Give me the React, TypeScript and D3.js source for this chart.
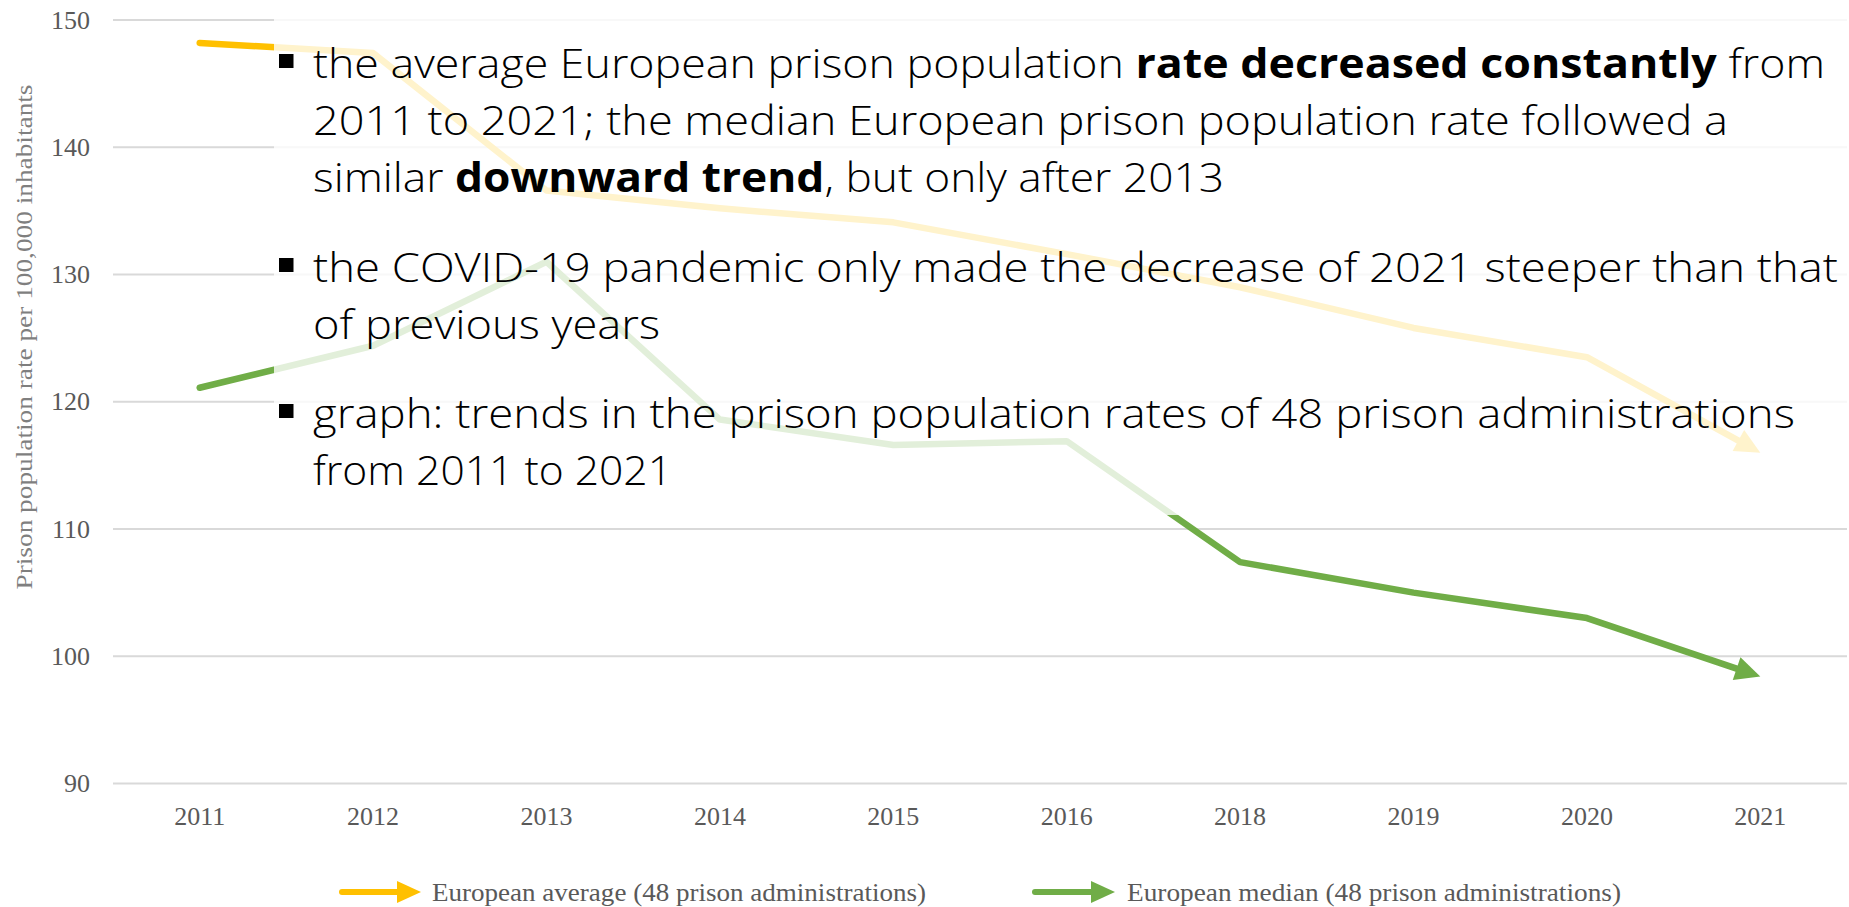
import React from "react";
import * as d3 from "d3";

const categories = ["2011", "2012", "2013", "2014", "2015", "2016", "2018", "2019", "2020", "2021"];
const averageValues = [148.2, 147.4, 136.6, 135.2, 134.1, 131.6, 129.0, 125.8, 123.5, 116.0];
const medianValues = [121.1, 124.4, 131.0, 118.6, 116.6, 116.9, 107.4, 105.0, 103.0, 98.4];
const yTicks = [90, 100, 110, 120, 130, 140, 150];
const seriesNames = [
  "European average (48 prison administrations)",
  "European median (48 prison administrations)",
];
const seriesColors = ["#FFC000", "#70AD47"];
const yAxisTitle = "Prison population rate per 100,000 inhabitants";

type Seg = [string, boolean];
const bulletParagraphs: Seg[][][] = [
  [
    [["the average European prison population ", false], ["rate decreased constantly", true], [" from", false]],
    [["2011 to 2021; the median European prison population rate followed a", false]],
    [["similar ", false], ["downward trend", true], [", but only after 2013", false]],
  ],
  [
    [["the COVID-19 pandemic only made the decrease of 2021 steeper than that", false]],
    [["of previous years", false]],
  ],
  [
    [["graph: trends in the prison population rates of 48 prison administrations", false]],
    [["from 2011 to 2021", false]],
  ],
];
// measured line widths (px) of the reference text block
const lineWidths = [[1512, 1415, 911], [1525, 347], [1482, 359]];
const paragraphBaselines = [78, 282, 428];

const W = 1849;
const H = 907;
const plotLeft = 113;
const plotRight = 1847;

function arrowParts(pts: [number, number][], headLen: number, headWidth: number) {
  const n = pts.length;
  const [tx, ty] = pts[n - 1];
  const [px, py] = pts[n - 2];
  const dx = tx - px;
  const dy = ty - py;
  const len = Math.hypot(dx, dy);
  const ux = dx / len;
  const uy = dy / len;
  const bx = tx - ux * headLen;
  const by = ty - uy * headLen;
  const nx = -uy;
  const ny = ux;
  const linePts = pts.slice(0, n - 1).concat([[bx, by]]);
  const head = [
    [tx, ty],
    [bx + (nx * headWidth) / 2, by + (ny * headWidth) / 2],
    [bx - (nx * headWidth) / 2, by - (ny * headWidth) / 2],
  ];
  return { linePts, head };
}

export default function App() {
  const x = d3.scaleBand<string>().domain(categories).range([plotLeft, plotRight]);
  const y = d3.scaleLinear().domain([90, 150]).range([783.5, 20]);
  const cx = (c: string) => (x(c) as number) + x.bandwidth() / 2;
  const line = d3.line<[number, number]>().x((d) => d[0]).y((d) => d[1]);

  const series = [averageValues, medianValues].map((vals) =>
    arrowParts(
      vals.map((v, i) => [cx(categories[i]), y(v)] as [number, number]),
      25,
      24
    )
  );

  const legendItems = [
    { x0: 342, x1: 421, tx: 432 },
    { x0: 1035, x1: 1115, tx: 1127 },
  ];
  const legendY = 892;

  const serif = "'Liberation Serif', 'Times New Roman', serif";
  const sans = "'Open Sans', 'Noto Sans', sans-serif";

  return (
    <div style={{ position: "absolute", left: 0, top: 0 }}>
      <svg width={W} height={H} style={{ display: "block", background: "#ffffff" }}>
        {/* gridlines */}
        {yTicks.map((t) => (
          <line key={t} x1={plotLeft} x2={plotRight} y1={y(t)} y2={y(t)} stroke="#D9D9D9" strokeWidth={2} />
        ))}
        {/* y tick labels */}
        {yTicks.map((t) => (
          <text key={"l" + t} x={90} y={y(t) + 8.5} textAnchor="end" fontFamily={serif} fontSize={26} fill="#595959">
            {t}
          </text>
        ))}
        {/* x labels */}
        {categories.map((c) => (
          <text key={c} x={cx(c)} y={825} textAnchor="middle" fontFamily={serif} fontSize={26} fill="#595959">
            {c}
          </text>
        ))}
        {/* y axis title */}
        <text
          transform={`translate(32, 337) rotate(-90)`}
          textAnchor="middle"
          fontFamily={serif}
          fontSize={24}
          fill="#7F7F7F"
          textLength={505}
          lengthAdjust="spacingAndGlyphs"
        >
          {yAxisTitle}
        </text>
        {/* series */}
        {series.map((s, i) => (
          <g key={i}>
            <path d={line(s.linePts) || ""} fill="none" stroke={seriesColors[i]} strokeWidth={6.5} strokeLinecap="round" strokeLinejoin="round" />
            <polygon points={s.head.map((p) => p.join(",")).join(" ")} fill={seriesColors[i]} />
          </g>
        ))}
        {/* legend */}
        {legendItems.map((l, i) => (
          <g key={"lg" + i}>
            <line x1={l.x0} x2={l.x1 - 22} y1={legendY} y2={legendY} stroke={seriesColors[i]} strokeWidth={6} strokeLinecap="round" />
            <polygon
              points={`${l.x1},${legendY} ${l.x1 - 24},${legendY - 11} ${l.x1 - 24},${legendY + 11}`}
              fill={seriesColors[i]}
            />
            <text
              x={l.tx}
              y={legendY + 9}
              fontFamily={serif}
              fontSize={26}
              fill="#595959"
              textLength={494}
              lengthAdjust="spacingAndGlyphs"
            >
              {seriesNames[i]}
            </text>
          </g>
        ))}
        {/* semi-transparent white text box */}
        <rect x={274} y={0} width={W - 274} height={515} fill="#ffffff" fillOpacity={0.8} />
        {/* bullets */}
        {bulletParagraphs.map((para, pi) => (
          <g key={"p" + pi}>
            <rect x={279} y={paragraphBaselines[pi] - 24} width={14.5} height={14} fill="#000000" />
            {para.map((ln, li) => (
              <text
                key={li}
                x={313}
                y={paragraphBaselines[pi] + li * 57}
                fontFamily={sans}
                fontSize={41}
                fill="#000000"
                textLength={lineWidths[pi][li]}
                lengthAdjust="spacingAndGlyphs"
                style={{ whiteSpace: "pre" }}
              >
                {ln.map((sg, si) => (
                  <tspan key={si} fontWeight={sg[1] ? 700 : 300}>
                    {sg[0]}
                  </tspan>
                ))}
              </text>
            ))}
          </g>
        ))}
      </svg>
    </div>
  );
}
